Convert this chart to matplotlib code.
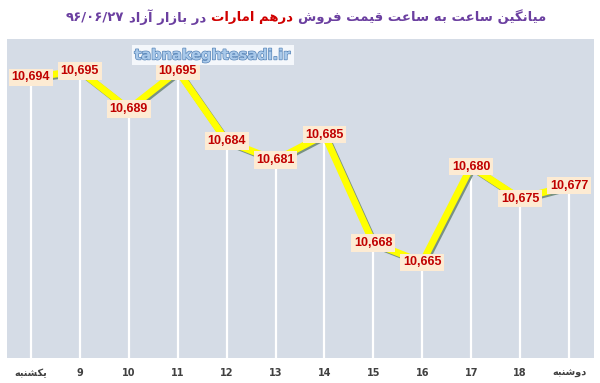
import matplotlib
matplotlib.use("Agg")
import matplotlib.pyplot as plt
import matplotlib.patheffects as pe
from matplotlib.ticker import FixedLocator

# ---------------- data ----------------
categories = ["یکشنبه", "9", "10", "11", "12", "13", "14", "15", "16", "17", "18", "دوشنبه"]
prices = [10694, 10695, 10689, 10695, 10684, 10681, 10685, 10668, 10665, 10680, 10675, 10677]
title_part1 = "میانگین ساعت به ساعت قیمت فروش"
title_part2 = "درهم امارات"
title_part3 = "در بازار آزاد"
title_date = "۹۶/۰۶/۲۷"
watermark = "tabnakeghtesadi.ir"

# ---------------- minimal Persian shaper (presentation forms) ----------------
# letter: (isolated, final, initial, medial); None for initial/medial => non-joining to next
FORMS = {
    "ا": ("\uFE8D", "\uFE8E", None, None),
    "آ": ("\uFE81", "\uFE82", None, None),
    "ب": ("\uFE8F", "\uFE90", "\uFE91", "\uFE92"),
    "پ": ("\uFB56", "\uFB57", "\uFB58", "\uFB59"),
    "ت": ("\uFE95", "\uFE96", "\uFE97", "\uFE98"),
    "د": ("\uFEA9", "\uFEAA", None, None),
    "ر": ("\uFEAD", "\uFEAE", None, None),
    "ز": ("\uFEAF", "\uFEB0", None, None),
    "س": ("\uFEB1", "\uFEB2", "\uFEB3", "\uFEB4"),
    "ش": ("\uFEB5", "\uFEB6", "\uFEB7", "\uFEB8"),
    "ع": ("\uFEC9", "\uFECA", "\uFECB", "\uFECC"),
    "ف": ("\uFED1", "\uFED2", "\uFED3", "\uFED4"),
    "ق": ("\uFED5", "\uFED6", "\uFED7", "\uFED8"),
    "ک": ("\uFB8E", "\uFB8F", "\uFB90", "\uFB91"),
    "گ": ("\uFB92", "\uFB93", "\uFB94", "\uFB95"),
    "م": ("\uFEE1", "\uFEE2", "\uFEE3", "\uFEE4"),
    "ن": ("\uFEE5", "\uFEE6", "\uFEE7", "\uFEE8"),
    "ه": ("\uFEE9", "\uFEEA", "\uFEEB", "\uFEEC"),
    "و": ("\uFEED", "\uFEEE", None, None),
    "ی": ("\uFBFC", "\uFBFD", "\uFBFE", "\uFBFF"),
}


def shape_word(word):
    out = []
    n = len(word)
    for i, ch in enumerate(word):
        if ch not in FORMS:
            out.append(ch)
            continue
        prev = word[i - 1] if i > 0 else None
        nxt = word[i + 1] if i < n - 1 else None
        join_prev = prev in FORMS and FORMS[prev][2] is not None
        join_next = nxt in FORMS and FORMS[ch][2] is not None
        iso, fin, ini, med = FORMS[ch]
        if join_prev and join_next:
            out.append(med)
        elif join_prev:
            out.append(fin)
        elif join_next:
            out.append(ini)
        else:
            out.append(iso)
    return "".join(out)


def is_rtl_word(w):
    return any(c in FORMS for c in w)


def visual(text):
    words = text.split(" ")
    vis = []
    for w in words:
        if is_rtl_word(w):
            vis.append(shape_word(w)[::-1])
        else:
            vis.append(w)
    return " ".join(vis[::-1])


# ---------------- figure ----------------
fig = plt.figure(figsize=(6.0, 3.83), dpi=100)
fig.patch.set_facecolor("white")
ax = fig.add_axes([6.5 / 600, 25 / 383, 587 / 600, 319 / 383])
ax.set_facecolor("#d5dce6")
for s in ax.spines.values():
    s.set_visible(False)

x = list(range(len(prices)))
ax.set_xlim(-0.5, len(prices) - 0.5)
ax.set_ylim(10650, 10700)

# white drop lines
ax.vlines(x, 10650, prices, color="white", lw=1.6, zorder=2)

# yellow line with shadow
ax.plot(x, prices, color="#ffff00", lw=5.0, solid_joinstyle="miter", zorder=3,
        path_effects=[pe.SimpleLineShadow(offset=(1.2, -1.2), shadow_color="#6f8a78", alpha=0.9),
                      pe.Normal()])

# data labels
for xi, v in zip(x, prices):
    ax.text(xi, v, f"{v:,}", ha="center", va="center", color="#c00000",
            fontsize=9, fontweight="bold", family="Liberation Sans", zorder=5,
            bbox=dict(boxstyle="square,pad=0.22", facecolor="#fdebd3", edgecolor="none"))

# x tick labels
ax.xaxis.set_major_locator(FixedLocator(x))
ax.set_xticklabels([visual(c) for c in categories], fontsize=7, fontweight="bold", color="#404040")
ax.tick_params(axis="x", length=0, pad=7)
ax.tick_params(axis="y", left=False, labelleft=False)

# watermark
fig.text(213 / 600, 1 - 55 / 383, watermark, ha="center", va="center", fontsize=10.5,
         color="#a9c9ea", fontweight="bold",
         path_effects=[pe.withStroke(linewidth=1.0, foreground="#5a86b8")],
         bbox=dict(boxstyle="square,pad=0.15", facecolor="#f4f7fb", edgecolor="none"))

# title (multi-colored, right to left)
purple = "#6b3fa0"
red = "#d00000"
tfs = 9.5
t1 = fig.text(546 / 600, 1 - 17 / 383, visual(title_part1), ha="right", va="center",
              fontsize=tfs, fontweight="bold", color=purple)
t2 = ax.annotate(visual(title_part2), xy=(0, 0.5), xycoords=t1, xytext=(-3.5, 0),
                 textcoords="offset points", ha="right", va="center",
                 fontsize=tfs, fontweight="bold", color=red, annotation_clip=False)
t3 = ax.annotate(visual(title_part3), xy=(0, 0.5), xycoords=t2, xytext=(-3.5, 0),
                 textcoords="offset points", ha="right", va="center",
                 fontsize=tfs, fontweight="bold", color=purple, annotation_clip=False)
t4 = ax.annotate(title_date, xy=(0, 0.5), xycoords=t3, xytext=(-3.5, 0),
                 textcoords="offset points", ha="right", va="center",
                 fontsize=tfs, fontweight="bold", color=purple, annotation_clip=False)

fig.savefig("out.png", dpi=100, facecolor="white")
